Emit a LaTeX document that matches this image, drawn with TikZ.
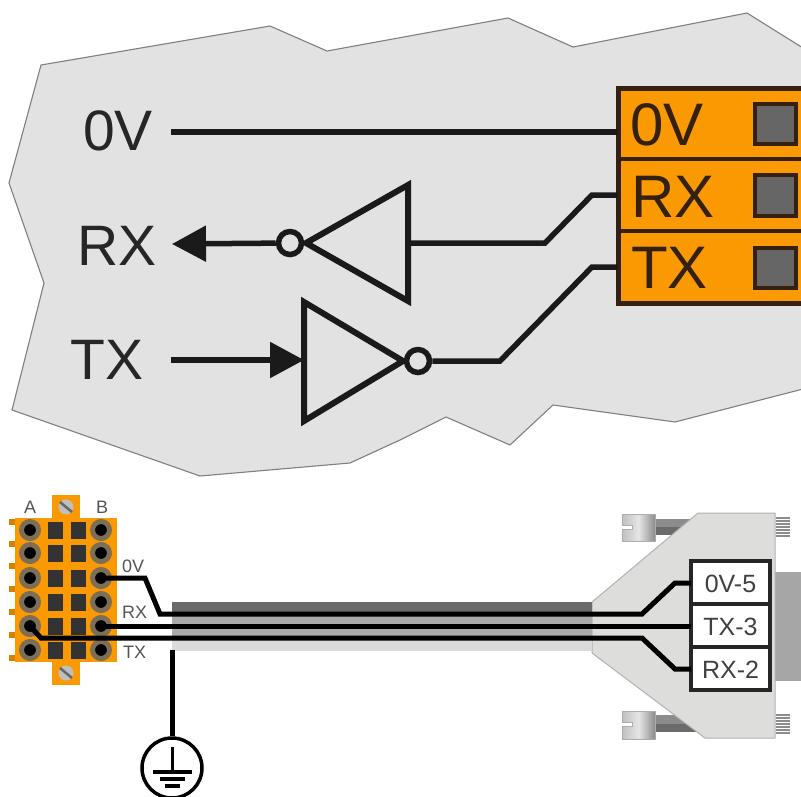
\documentclass[tikz,border=0pt]{standalone}
\usepackage{fontspec}
\setmainfont{Liberation Sans}
\usetikzlibrary{arrows.meta,calc}
\definecolor{boardgray}{HTML}{E2E2E2}
\definecolor{edgegray}{HTML}{808080}
\definecolor{boxorange}{HTML}{FB9903}
\definecolor{boxline}{HTML}{33200F}
\definecolor{wire}{HTML}{1A1A1A}
\definecolor{termgray}{HTML}{666666}
\definecolor{pinring}{HTML}{7D6F55}
\definecolor{shell}{HTML}{DDDDDC}
\definecolor{labelgray}{HTML}{555555}
\tikzset{
  big/.style={font=\fontsize{57}{57}\selectfont,anchor=base west,inner sep=0pt,text=black!85},
  boxtext/.style={font=\fontsize{60}{60}\selectfont,anchor=base west,inner sep=0pt,text=boxline},
  small/.style={font=\fontsize{18}{18}\selectfont,anchor=base west,inner sep=0pt,text=labelgray},
  dtext/.style={font=\fontsize{25}{25}\selectfont,anchor=base,inner sep=0pt,text=black!75},
  wireline/.style={draw=wire,line width=5.5pt,line join=miter},
  thinwire/.style={draw=black,line width=5pt,line join=miter},
  bubble/.style={circle,draw=wire,fill=boardgray,line width=5.5pt,minimum size=23pt,inner sep=0pt},
  gate/.style={draw=wire,line width=6pt,line join=miter,fill=boardgray},
  head/.style={-{Triangle[length=34pt,width=35pt,sep=0pt]}},
  terminal/.style={draw=boxline,fill=termgray,line width=4.5pt},
  pin/.style={circle,fill=black,draw=pinring,line width=5pt,minimum size=17pt,inner sep=0pt},
  sq/.style={fill=black!80,minimum width=15pt,minimum height=17pt,inner sep=0pt},
  lab/.style={draw=black!85,line width=3.5pt,fill=white},
}
\begin{document}
\begin{tikzpicture}[x=1pt,y=-1pt]
\useasboundingbox (0,0) rectangle (801,796);
\clip (0,0) rectangle (801,796);
\fill[white] (0,0) rectangle (801,796);
% torn board
\draw[edgegray,fill=boardgray,line width=1.1pt,line join=round]
 (41,65)--(270,26)--(327,51)--(508,18)--(573,47)--(747,13)--(803,48)--(803,389)--(675,422)--(553,405)--(510,445)--(446,417)--(400,440)--(350,463)--(200,476)--(12,410)--(44,283)--(9,183)--cycle;
% orange block
\draw[draw=boxline,fill=boxorange,line width=5pt] (618,88) rectangle (812,303);
\draw[boxline,line width=4.5pt] (618,159)--(812,159) (618,231)--(812,231);
\draw[terminal] (755,104) rectangle (796,144);
\draw[terminal] (755,175) rectangle (796,216);
\draw[terminal] (755,248) rectangle (796,288);
\node[boxtext] (b0) at (630,145) {0V};
\node[boxtext] (b1) at (631,217) {RX};
\node[boxtext] (b2) at (631,288) {TX};
\coordinate (p0) at (618,132);
\coordinate (p1) at (618,195);
\coordinate (p2) at (618,267);
% left labels
\node[big] (l0) at (83,150) {0V};
\node[big] (l1) at (77,265) {RX};
\node[big] (l2) at (70,379) {TX};
\coordinate (s0) at (171,132);
\coordinate (s1) at (172,244);
\coordinate (s2) at (171,360);
% 0V
\draw[wireline] (s0)--(p0);
% RX gate
\coordinate (g1t) at (408,185);
\coordinate (g1b) at (408,301);
\draw[gate] (g1t)--(g1b)--(306,243)--cycle;
\coordinate (g1i) at (408,243);
\draw[wireline] (p1)--(592,195)--(545,243)--(g1i);
\node[bubble] (c1) at (290,243) {};
\draw[wireline,head] (c1)--(s1);
% TX gate
\coordinate (g2t) at (304,302);
\coordinate (g2b) at (304,421);
\draw[gate] (g2t)--(g2b)--(403,361)--cycle;
\coordinate (g2i) at (304,360);
\draw[wireline,head] (s2)--(g2i);
\node[bubble] (c2) at (418,361) {};
\draw[wireline] (c2)--(500,361)--(592,267)--(p2);
%
% terminal block
\fill[boxorange] (52,495) rectangle (80,685);
\fill[boxorange] (15,518) rectangle (117,662);
\foreach \y in {522,544,566,589,612,635,658} \fill[boxorange!85!black] (9,\y-3) rectangle (15,\y+3);
\foreach \n/\y in {1/530,2/553,3/578,4/602,5/626,6/650}{
  \node[pin] (a\n) at (30,\y) {};
  \node[pin] (r\n) at (101,\y) {};
  \node[sq] at (55,\y) {};
  \node[sq] at (78,\y) {};
}
\foreach \y in {507,673}{
  \fill[black!25] (66,\y) circle (7.5);
  \draw[black!60,line width=2.5pt] (60,\y-5)--(72,\y+5);
}
\node[small] (ta) at (24,513) {A};
\node[small] (tb) at (96,513) {B};
\node[small] (t0) at (122,572) {0V};
\node[small] (t1) at (122,618) {RX};
\node[small] (t2) at (123,658) {TX};
% connector body parts under cable
\fill[black!45] (655,519) rectangle (705,527);
\fill[black!58] (655,527) rectangle (705,535);
\fill[black!45] (655,715) rectangle (715,724);
\fill[black!58] (655,724) rectangle (715,732);
\draw[black!32,line width=.8pt,left color=black!25,right color=black!45,middle color=black!10]
 (622,514)--(655,514)--(655,541)--(622,541)--(622,529)--(632,529)--(632,525)--(622,525)--cycle;
\draw[black!32,line width=.8pt,left color=black!25,right color=black!45,middle color=black!10]
 (622,711)--(655,711)--(655,739)--(622,739)--(622,726)--(632,726)--(632,722)--(622,722)--cycle;
\fill[black!35] (774,572) rectangle (801,681);
\foreach \y in {518,521,...,536} \draw[black!45,line width=1.4pt] (776,\y)--(790,\y);
\foreach \y in {715,718,...,733} \draw[black!45,line width=1.4pt] (776,\y)--(790,\y);
\draw[black!30,fill=shell,line width=1pt,line join=round]
 (592,602)--(698,513)--(775,513)--(775,738)--(705,738)--(592,653)--cycle;
% cable
\fill[black!58] (172,602) rectangle (592,614);
\fill[black!33] (172,614) rectangle (592,638);
\fill[black!14] (172,638) rectangle (592,651);
% label boxes
\draw[lab] (691,561) rectangle (770,604);
\draw[lab] (691,604) rectangle (770,647);
\draw[lab] (691,647) rectangle (770,690);
\node[dtext] (d0) at (730.5,592) {0V-5};
\node[dtext] (d1) at (730.5,635) {TX-3};
\node[dtext] (d2) at (730.5,678) {RX-2};
\coordinate (e0) at (691,583);
\coordinate (e1) at (691,626);
\coordinate (e2) at (691,669);
% wires
\draw[thinwire] (r3.center)--(145,578)--(160,614)--(642,614)--(675,583)--(e0);
\draw[thinwire] (r5.center)--(e1);
\draw[thinwire] (a5.center)--(41,638)--(642,638)--(675,669)--(e2);
% earth
\node[circle,draw=black,line width=3.5pt,minimum size=60pt,inner sep=0pt] (pe) at (172,768) {};
\coordinate (ce) at (172,650);
\draw[black,line width=5pt] (ce)--(pe.north);
\coordinate (pe1) at (172,747);
\coordinate (pe2) at (172,772);
\draw[black,line width=3pt] (pe1)--(pe2);
\draw[black,line width=3.5pt] (153,772)--(192,772) (160,779)--(185,779) (165,786)--(180,786);
\end{tikzpicture}
\end{document}
